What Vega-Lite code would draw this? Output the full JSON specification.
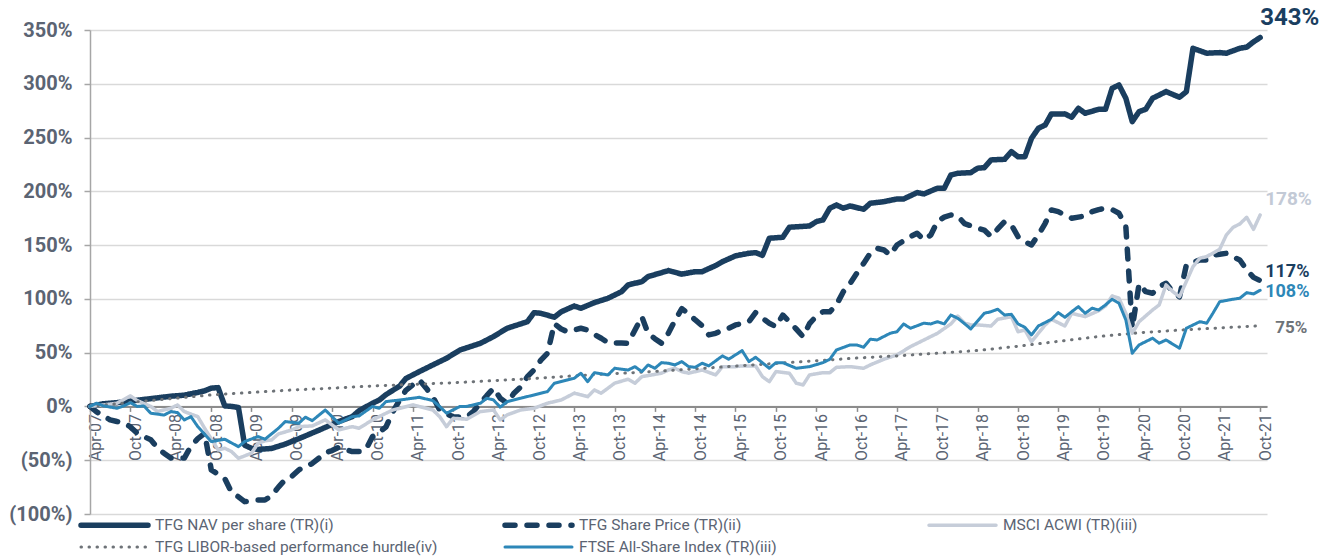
{
  "$schema": "https://vega.github.io/schema/vega-lite/v6.json",
  "width": 1177,
  "height": 484,
  "autosize": {"type": "none"},
  "padding": {"left": 90, "top": 30, "right": 71, "bottom": 44},
  "background": "white",
  "config": {"view": {"stroke": null}, "font": "Roboto"},
  "datasets": {
    "lines": [
      {"s":"nav","d":"2007-04","v":0},{"s":"nav","d":"2007-06","v":2.5},{"s":"nav","d":"2007-08","v":3.5},{"s":"nav","d":"2007-10","v":5},{"s":"nav","d":"2007-12","v":6.5},{"s":"nav","d":"2008-02","v":8},{"s":"nav","d":"2008-04","v":9.5},{"s":"nav","d":"2008-06","v":10.5},{"s":"nav","d":"2008-08","v":13},{"s":"nav","d":"2008-09","v":14.5},{"s":"nav","d":"2008-10","v":17},{"s":"nav","d":"2008-11","v":17.5},{"s":"nav","d":"2008-12","v":0.5},{"s":"nav","d":"2009-01","v":0},{"s":"nav","d":"2009-02","v":-1},{"s":"nav","d":"2009-03","v":-36},{"s":"nav","d":"2009-04","v":-39},{"s":"nav","d":"2009-05","v":-40},{"s":"nav","d":"2009-07","v":-39},{"s":"nav","d":"2009-09","v":-35},{"s":"nav","d":"2009-11","v":-30},{"s":"nav","d":"2010-02","v":-22},{"s":"nav","d":"2010-05","v":-14},{"s":"nav","d":"2010-07","v":-9.5},{"s":"nav","d":"2010-08","v":-4},{"s":"nav","d":"2010-10","v":3},{"s":"nav","d":"2010-11","v":6},{"s":"nav","d":"2010-12","v":11},{"s":"nav","d":"2011-01","v":15},{"s":"nav","d":"2011-02","v":19},{"s":"nav","d":"2011-03","v":26},{"s":"nav","d":"2011-05","v":32.4},{"s":"nav","d":"2011-07","v":38.6},{"s":"nav","d":"2011-09","v":44.8},{"s":"nav","d":"2011-11","v":52.5},{"s":"nav","d":"2012-02","v":58.7},{"s":"nav","d":"2012-04","v":65},{"s":"nav","d":"2012-06","v":72.7},{"s":"nav","d":"2012-09","v":78.8},{"s":"nav","d":"2012-10","v":87.2},{"s":"nav","d":"2012-11","v":86.6},{"s":"nav","d":"2013-01","v":83},{"s":"nav","d":"2013-02","v":88},{"s":"nav","d":"2013-04","v":93.4},{"s":"nav","d":"2013-05","v":91.3},{"s":"nav","d":"2013-07","v":96.5},{"s":"nav","d":"2013-09","v":100.6},{"s":"nav","d":"2013-11","v":106.7},{"s":"nav","d":"2013-12","v":113},{"s":"nav","d":"2014-02","v":116},{"s":"nav","d":"2014-03","v":120.7},{"s":"nav","d":"2014-06","v":126.3},{"s":"nav","d":"2014-08","v":123},{"s":"nav","d":"2014-10","v":125.3},{"s":"nav","d":"2014-11","v":125.3},{"s":"nav","d":"2015-01","v":131},{"s":"nav","d":"2015-02","v":134.6},{"s":"nav","d":"2015-04","v":140},{"s":"nav","d":"2015-06","v":142.4},{"s":"nav","d":"2015-07","v":143},{"s":"nav","d":"2015-08","v":140.5},{"s":"nav","d":"2015-09","v":156.4},{"s":"nav","d":"2015-11","v":157.3},{"s":"nav","d":"2015-12","v":166.6},{"s":"nav","d":"2016-03","v":167.8},{"s":"nav","d":"2016-04","v":171.8},{"s":"nav","d":"2016-05","v":173.4},{"s":"nav","d":"2016-06","v":184.3},{"s":"nav","d":"2016-07","v":187.3},{"s":"nav","d":"2016-08","v":184.3},{"s":"nav","d":"2016-09","v":186.4},{"s":"nav","d":"2016-11","v":183.3},{"s":"nav","d":"2016-12","v":188.9},{"s":"nav","d":"2017-02","v":190.4},{"s":"nav","d":"2017-04","v":192.9},{"s":"nav","d":"2017-05","v":192.9},{"s":"nav","d":"2017-07","v":198.8},{"s":"nav","d":"2017-08","v":197.6},{"s":"nav","d":"2017-10","v":202.9},{"s":"nav","d":"2017-11","v":202.9},{"s":"nav","d":"2017-12","v":215.2},{"s":"nav","d":"2018-01","v":216.8},{"s":"nav","d":"2018-03","v":217.4},{"s":"nav","d":"2018-04","v":221.5},{"s":"nav","d":"2018-05","v":222},{"s":"nav","d":"2018-06","v":229.2},{"s":"nav","d":"2018-08","v":229.8},{"s":"nav","d":"2018-09","v":236.9},{"s":"nav","d":"2018-10","v":232.2},{"s":"nav","d":"2018-11","v":232.2},{"s":"nav","d":"2018-12","v":249.3},{"s":"nav","d":"2019-01","v":258.6},{"s":"nav","d":"2019-02","v":261.7},{"s":"nav","d":"2019-03","v":272},{"s":"nav","d":"2019-05","v":272},{"s":"nav","d":"2019-06","v":268.9},{"s":"nav","d":"2019-07","v":277.2},{"s":"nav","d":"2019-08","v":272.6},{"s":"nav","d":"2019-10","v":276.3},{"s":"nav","d":"2019-11","v":276.3},{"s":"nav","d":"2019-12","v":295.8},{"s":"nav","d":"2020-01","v":298.9},{"s":"nav","d":"2020-02","v":286.5},{"s":"nav","d":"2020-03","v":264.8},{"s":"nav","d":"2020-04","v":274.1},{"s":"nav","d":"2020-05","v":276.3},{"s":"nav","d":"2020-06","v":286.5},{"s":"nav","d":"2020-08","v":292.7},{"s":"nav","d":"2020-10","v":287.5},{"s":"nav","d":"2020-11","v":292.7},{"s":"nav","d":"2020-12","v":333},{"s":"nav","d":"2021-02","v":328.4},{"s":"nav","d":"2021-04","v":329},{"s":"nav","d":"2021-05","v":328.4},{"s":"nav","d":"2021-07","v":333},{"s":"nav","d":"2021-08","v":334},{"s":"nav","d":"2021-09","v":339},{"s":"nav","d":"2021-10","v":343},

      {"s":"sp","d":"2007-04","v":0},{"s":"sp","d":"2007-05","v":-5},{"s":"sp","d":"2007-07","v":-12.5},{"s":"sp","d":"2007-08","v":-14},{"s":"sp","d":"2007-09","v":-15},{"s":"sp","d":"2007-10","v":-19},{"s":"sp","d":"2007-11","v":-25},{"s":"sp","d":"2007-12","v":-28},{"s":"sp","d":"2008-01","v":-31},{"s":"sp","d":"2008-02","v":-38.6},{"s":"sp","d":"2008-03","v":-43.5},{"s":"sp","d":"2008-04","v":-48},{"s":"sp","d":"2008-05","v":-48},{"s":"sp","d":"2008-06","v":-48},{"s":"sp","d":"2008-07","v":-37},{"s":"sp","d":"2008-08","v":-30},{"s":"sp","d":"2008-09","v":-25},{"s":"sp","d":"2008-10","v":-59},{"s":"sp","d":"2008-11","v":-63},{"s":"sp","d":"2008-12","v":-67},{"s":"sp","d":"2009-01","v":-80},{"s":"sp","d":"2009-02","v":-84},{"s":"sp","d":"2009-03","v":-88.5},{"s":"sp","d":"2009-04","v":-88},{"s":"sp","d":"2009-05","v":-87},{"s":"sp","d":"2009-06","v":-87},{"s":"sp","d":"2009-07","v":-83},{"s":"sp","d":"2009-08","v":-75},{"s":"sp","d":"2009-09","v":-68},{"s":"sp","d":"2009-10","v":-65},{"s":"sp","d":"2009-11","v":-59},{"s":"sp","d":"2009-12","v":-56},{"s":"sp","d":"2010-01","v":-53},{"s":"sp","d":"2010-02","v":-48},{"s":"sp","d":"2010-03","v":-43},{"s":"sp","d":"2010-04","v":-41},{"s":"sp","d":"2010-05","v":-38},{"s":"sp","d":"2010-06","v":-40},{"s":"sp","d":"2010-07","v":-42},{"s":"sp","d":"2010-08","v":-42},{"s":"sp","d":"2010-09","v":-40},{"s":"sp","d":"2010-10","v":-28},{"s":"sp","d":"2010-11","v":-24},{"s":"sp","d":"2010-12","v":-19},{"s":"sp","d":"2011-01","v":-5},{"s":"sp","d":"2011-02","v":6},{"s":"sp","d":"2011-03","v":15},{"s":"sp","d":"2011-04","v":20},{"s":"sp","d":"2011-05","v":24.6},{"s":"sp","d":"2011-06","v":17},{"s":"sp","d":"2011-07","v":9},{"s":"sp","d":"2011-08","v":-3.3},{"s":"sp","d":"2011-09","v":-7},{"s":"sp","d":"2011-10","v":-9.5},{"s":"sp","d":"2011-11","v":-10},{"s":"sp","d":"2011-12","v":-10},{"s":"sp","d":"2012-01","v":-4.5},{"s":"sp","d":"2012-02","v":3},{"s":"sp","d":"2012-03","v":10},{"s":"sp","d":"2012-04","v":17},{"s":"sp","d":"2012-05","v":7.6},{"s":"sp","d":"2012-06","v":3},{"s":"sp","d":"2012-07","v":12},{"s":"sp","d":"2012-08","v":18},{"s":"sp","d":"2012-09","v":27.7},{"s":"sp","d":"2012-10","v":34},{"s":"sp","d":"2012-11","v":43},{"s":"sp","d":"2012-12","v":49.5},{"s":"sp","d":"2013-01","v":77},{"s":"sp","d":"2013-02","v":72},{"s":"sp","d":"2013-03","v":69.5},{"s":"sp","d":"2013-04","v":71},{"s":"sp","d":"2013-05","v":72.7},{"s":"sp","d":"2013-06","v":71},{"s":"sp","d":"2013-07","v":67},{"s":"sp","d":"2013-08","v":63.4},{"s":"sp","d":"2013-09","v":59.3},{"s":"sp","d":"2013-10","v":59},{"s":"sp","d":"2013-11","v":59},{"s":"sp","d":"2013-12","v":58.8},{"s":"sp","d":"2014-01","v":71},{"s":"sp","d":"2014-02","v":83.5},{"s":"sp","d":"2014-03","v":68},{"s":"sp","d":"2014-04","v":63},{"s":"sp","d":"2014-05","v":58.8},{"s":"sp","d":"2014-06","v":68},{"s":"sp","d":"2014-07","v":80},{"s":"sp","d":"2014-08","v":91},{"s":"sp","d":"2014-09","v":86},{"s":"sp","d":"2014-10","v":80.4},{"s":"sp","d":"2014-11","v":75},{"s":"sp","d":"2014-12","v":66.5},{"s":"sp","d":"2015-01","v":68},{"s":"sp","d":"2015-02","v":71},{"s":"sp","d":"2015-03","v":72.7},{"s":"sp","d":"2015-04","v":75.8},{"s":"sp","d":"2015-05","v":77},{"s":"sp","d":"2015-06","v":78.8},{"s":"sp","d":"2015-07","v":87.2},{"s":"sp","d":"2015-08","v":82},{"s":"sp","d":"2015-09","v":77.4},{"s":"sp","d":"2015-10","v":74.2},{"s":"sp","d":"2015-11","v":85},{"s":"sp","d":"2015-12","v":78.8},{"s":"sp","d":"2016-01","v":72},{"s":"sp","d":"2016-02","v":64.9},{"s":"sp","d":"2016-03","v":77},{"s":"sp","d":"2016-04","v":84},{"s":"sp","d":"2016-05","v":88},{"s":"sp","d":"2016-06","v":88},{"s":"sp","d":"2016-07","v":94.4},{"s":"sp","d":"2016-08","v":106.7},{"s":"sp","d":"2016-09","v":114.5},{"s":"sp","d":"2016-10","v":123.8},{"s":"sp","d":"2016-11","v":133},{"s":"sp","d":"2016-12","v":142.4},{"s":"sp","d":"2017-01","v":147},{"s":"sp","d":"2017-02","v":145.5},{"s":"sp","d":"2017-03","v":140.8},{"s":"sp","d":"2017-04","v":150.1},{"s":"sp","d":"2017-05","v":154},{"s":"sp","d":"2017-06","v":157.9},{"s":"sp","d":"2017-07","v":161},{"s":"sp","d":"2017-08","v":154.8},{"s":"sp","d":"2017-09","v":159.4},{"s":"sp","d":"2017-10","v":172},{"s":"sp","d":"2017-11","v":176},{"s":"sp","d":"2017-12","v":178},{"s":"sp","d":"2018-01","v":177},{"s":"sp","d":"2018-02","v":170},{"s":"sp","d":"2018-03","v":168},{"s":"sp","d":"2018-04","v":165.7},{"s":"sp","d":"2018-05","v":164},{"s":"sp","d":"2018-06","v":158},{"s":"sp","d":"2018-07","v":165},{"s":"sp","d":"2018-08","v":171.8},{"s":"sp","d":"2018-09","v":168.7},{"s":"sp","d":"2018-10","v":157.9},{"s":"sp","d":"2018-11","v":153},{"s":"sp","d":"2018-12","v":150.2},{"s":"sp","d":"2019-01","v":159.4},{"s":"sp","d":"2019-02","v":170.3},{"s":"sp","d":"2019-03","v":182.7},{"s":"sp","d":"2019-04","v":181.1},{"s":"sp","d":"2019-05","v":178},{"s":"sp","d":"2019-06","v":175},{"s":"sp","d":"2019-07","v":176},{"s":"sp","d":"2019-08","v":177.1},{"s":"sp","d":"2019-09","v":181.1},{"s":"sp","d":"2019-10","v":183},{"s":"sp","d":"2019-11","v":184.3},{"s":"sp","d":"2019-12","v":183},{"s":"sp","d":"2020-01","v":179.6},{"s":"sp","d":"2020-02","v":167.2},{"s":"sp","d":"2020-03","v":73},{"s":"sp","d":"2020-04","v":114},{"s":"sp","d":"2020-05","v":106.7},{"s":"sp","d":"2020-06","v":105.2},{"s":"sp","d":"2020-07","v":111.4},{"s":"sp","d":"2020-08","v":114.5},{"s":"sp","d":"2020-09","v":106.7},{"s":"sp","d":"2020-10","v":102},{"s":"sp","d":"2020-11","v":131.6},{"s":"sp","d":"2020-12","v":134},{"s":"sp","d":"2021-01","v":136.2},{"s":"sp","d":"2021-02","v":136.2},{"s":"sp","d":"2021-03","v":140.8},{"s":"sp","d":"2021-04","v":141.5},{"s":"sp","d":"2021-05","v":142.4},{"s":"sp","d":"2021-06","v":139},{"s":"sp","d":"2021-07","v":136.2},{"s":"sp","d":"2021-08","v":126.9},{"s":"sp","d":"2021-09","v":120},{"s":"sp","d":"2021-10","v":117},

      {"s":"msci","d":"2007-04","v":0},{"s":"msci","d":"2007-06","v":1.4},{"s":"msci","d":"2007-08","v":3},{"s":"msci","d":"2007-10","v":9.8},{"s":"msci","d":"2007-11","v":5.4},{"s":"msci","d":"2008-01","v":0},{"s":"msci","d":"2008-02","v":-4.8},{"s":"msci","d":"2008-04","v":-1.7},{"s":"msci","d":"2008-05","v":1.4},{"s":"msci","d":"2008-06","v":-4.8},{"s":"msci","d":"2008-08","v":-9.5},{"s":"msci","d":"2008-09","v":-20.3},{"s":"msci","d":"2008-11","v":-40.4},{"s":"msci","d":"2008-12","v":-38.9},{"s":"msci","d":"2009-01","v":-42},{"s":"msci","d":"2009-02","v":-48.2},{"s":"msci","d":"2009-03","v":-46},{"s":"msci","d":"2009-04","v":-43.5},{"s":"msci","d":"2009-05","v":-34.2},{"s":"msci","d":"2009-06","v":-32},{"s":"msci","d":"2009-07","v":-31.1},{"s":"msci","d":"2009-08","v":-25.6},{"s":"msci","d":"2009-10","v":-21.8},{"s":"msci","d":"2009-11","v":-18.8},{"s":"msci","d":"2010-01","v":-18.1},{"s":"msci","d":"2010-03","v":-12.5},{"s":"msci","d":"2010-05","v":-21.8},{"s":"msci","d":"2010-07","v":-18.8},{"s":"msci","d":"2010-08","v":-20.3},{"s":"msci","d":"2010-10","v":-12.5},{"s":"msci","d":"2010-12","v":-6.3},{"s":"msci","d":"2011-01","v":-3.3},{"s":"msci","d":"2011-04","v":1.4},{"s":"msci","d":"2011-06","v":-1.7},{"s":"msci","d":"2011-07","v":-3.3},{"s":"msci","d":"2011-08","v":-9.5},{"s":"msci","d":"2011-09","v":-18.8},{"s":"msci","d":"2011-10","v":-11},{"s":"msci","d":"2011-12","v":-11.9},{"s":"msci","d":"2012-02","v":-4.8},{"s":"msci","d":"2012-04","v":-3.3},{"s":"msci","d":"2012-05","v":-12.5},{"s":"msci","d":"2012-06","v":-7.9},{"s":"msci","d":"2012-08","v":-3.3},{"s":"msci","d":"2012-10","v":-1.7},{"s":"msci","d":"2012-12","v":3},{"s":"msci","d":"2013-02","v":6},{"s":"msci","d":"2013-04","v":12.3},{"s":"msci","d":"2013-06","v":9.1},{"s":"msci","d":"2013-07","v":15.3},{"s":"msci","d":"2013-08","v":12.3},{"s":"msci","d":"2013-10","v":21.6},{"s":"msci","d":"2013-12","v":25.3},{"s":"msci","d":"2014-01","v":21.6},{"s":"msci","d":"2014-02","v":27.7},{"s":"msci","d":"2014-05","v":30.9},{"s":"msci","d":"2014-06","v":33.9},{"s":"msci","d":"2014-07","v":35.5},{"s":"msci","d":"2014-08","v":32.4},{"s":"msci","d":"2014-09","v":30.9},{"s":"msci","d":"2014-11","v":33.9},{"s":"msci","d":"2015-01","v":29.3},{"s":"msci","d":"2015-02","v":37},{"s":"msci","d":"2015-04","v":37},{"s":"msci","d":"2015-05","v":37.7},{"s":"msci","d":"2015-07","v":37.7},{"s":"msci","d":"2015-08","v":27.7},{"s":"msci","d":"2015-09","v":23},{"s":"msci","d":"2015-10","v":32.4},{"s":"msci","d":"2015-12","v":30.9},{"s":"msci","d":"2016-01","v":21.6},{"s":"msci","d":"2016-02","v":20},{"s":"msci","d":"2016-03","v":29.3},{"s":"msci","d":"2016-05","v":31.4},{"s":"msci","d":"2016-06","v":31.4},{"s":"msci","d":"2016-07","v":36.4},{"s":"msci","d":"2016-09","v":37},{"s":"msci","d":"2016-11","v":35.5},{"s":"msci","d":"2016-12","v":38.6},{"s":"msci","d":"2017-02","v":43.9},{"s":"msci","d":"2017-04","v":47.9},{"s":"msci","d":"2017-06","v":55.6},{"s":"msci","d":"2017-08","v":61.8},{"s":"msci","d":"2017-10","v":68},{"s":"msci","d":"2017-12","v":76.7},{"s":"msci","d":"2018-01","v":84.1},{"s":"msci","d":"2018-02","v":77.4},{"s":"msci","d":"2018-03","v":75.8},{"s":"msci","d":"2018-04","v":75.8},{"s":"msci","d":"2018-06","v":74.8},{"s":"msci","d":"2018-07","v":81},{"s":"msci","d":"2018-09","v":83.5},{"s":"msci","d":"2018-10","v":69.5},{"s":"msci","d":"2018-11","v":71.1},{"s":"msci","d":"2018-12","v":60.2},{"s":"msci","d":"2019-02","v":75.8},{"s":"msci","d":"2019-03","v":81},{"s":"msci","d":"2019-05","v":74.8},{"s":"msci","d":"2019-06","v":86.6},{"s":"msci","d":"2019-08","v":83.5},{"s":"msci","d":"2019-10","v":89},{"s":"msci","d":"2019-11","v":93.4},{"s":"msci","d":"2019-12","v":102.7},{"s":"msci","d":"2020-01","v":100.6},{"s":"msci","d":"2020-02","v":86.6},{"s":"msci","d":"2020-03","v":68},{"s":"msci","d":"2020-04","v":78.8},{"s":"msci","d":"2020-06","v":89.7},{"s":"msci","d":"2020-07","v":94.4},{"s":"msci","d":"2020-08","v":113},{"s":"msci","d":"2020-09","v":106.7},{"s":"msci","d":"2020-10","v":102},{"s":"msci","d":"2020-12","v":130},{"s":"msci","d":"2021-01","v":137.8},{"s":"msci","d":"2021-02","v":139.3},{"s":"msci","d":"2021-04","v":146.2},{"s":"msci","d":"2021-05","v":159.4},{"s":"msci","d":"2021-06","v":166.6},{"s":"msci","d":"2021-07","v":169.7},{"s":"msci","d":"2021-08","v":175.9},{"s":"msci","d":"2021-09","v":164.7},{"s":"msci","d":"2021-10","v":178},

      {"s":"hurdle","d":"2007-04","v":0},{"s":"hurdle","d":"2007-10","v":3.8},{"s":"hurdle","d":"2008-04","v":7.2},{"s":"hurdle","d":"2008-10","v":10.7},{"s":"hurdle","d":"2009-04","v":13},{"s":"hurdle","d":"2009-10","v":15.3},{"s":"hurdle","d":"2010-04","v":17},{"s":"hurdle","d":"2010-10","v":19},{"s":"hurdle","d":"2011-04","v":20.5},{"s":"hurdle","d":"2011-10","v":22},{"s":"hurdle","d":"2012-04","v":24},{"s":"hurdle","d":"2012-10","v":26},{"s":"hurdle","d":"2013-04","v":28.5},{"s":"hurdle","d":"2013-10","v":30.5},{"s":"hurdle","d":"2014-04","v":32.5},{"s":"hurdle","d":"2014-10","v":35},{"s":"hurdle","d":"2015-04","v":37.5},{"s":"hurdle","d":"2015-10","v":40},{"s":"hurdle","d":"2016-04","v":42.5},{"s":"hurdle","d":"2016-10","v":45},{"s":"hurdle","d":"2017-04","v":47},{"s":"hurdle","d":"2017-10","v":49.5},{"s":"hurdle","d":"2018-04","v":52},{"s":"hurdle","d":"2018-10","v":56},{"s":"hurdle","d":"2019-04","v":60.5},{"s":"hurdle","d":"2019-10","v":65},{"s":"hurdle","d":"2020-04","v":68.5},{"s":"hurdle","d":"2020-10","v":71},{"s":"hurdle","d":"2021-04","v":73},{"s":"hurdle","d":"2021-10","v":75},

      {"s":"ftse","d":"2007-04","v":0},{"s":"ftse","d":"2007-05","v":3},{"s":"ftse","d":"2007-06","v":0.5},{"s":"ftse","d":"2007-08","v":-1.7},{"s":"ftse","d":"2007-09","v":0.5},{"s":"ftse","d":"2007-10","v":3.5},{"s":"ftse","d":"2007-11","v":0},{"s":"ftse","d":"2007-12","v":0.5},{"s":"ftse","d":"2008-01","v":-6.3},{"s":"ftse","d":"2008-03","v":-8},{"s":"ftse","d":"2008-04","v":-4.8},{"s":"ftse","d":"2008-05","v":-5.7},{"s":"ftse","d":"2008-06","v":-12.5},{"s":"ftse","d":"2008-07","v":-9.5},{"s":"ftse","d":"2008-08","v":-18.8},{"s":"ftse","d":"2008-10","v":-32.7},{"s":"ftse","d":"2008-12","v":-30.5},{"s":"ftse","d":"2009-02","v":-37.4},{"s":"ftse","d":"2009-03","v":-32.7},{"s":"ftse","d":"2009-05","v":-28},{"s":"ftse","d":"2009-06","v":-30.5},{"s":"ftse","d":"2009-08","v":-20.3},{"s":"ftse","d":"2009-09","v":-14},{"s":"ftse","d":"2009-11","v":-15.6},{"s":"ftse","d":"2009-12","v":-10},{"s":"ftse","d":"2010-01","v":-13.2},{"s":"ftse","d":"2010-03","v":-3.3},{"s":"ftse","d":"2010-05","v":-15.6},{"s":"ftse","d":"2010-07","v":-9.5},{"s":"ftse","d":"2010-08","v":-8.8},{"s":"ftse","d":"2010-10","v":0},{"s":"ftse","d":"2010-11","v":-1.7},{"s":"ftse","d":"2010-12","v":4.5},{"s":"ftse","d":"2011-02","v":6},{"s":"ftse","d":"2011-04","v":7.6},{"s":"ftse","d":"2011-05","v":8.5},{"s":"ftse","d":"2011-07","v":5.4},{"s":"ftse","d":"2011-08","v":0},{"s":"ftse","d":"2011-09","v":-6.3},{"s":"ftse","d":"2011-11","v":0},{"s":"ftse","d":"2011-12","v":0},{"s":"ftse","d":"2012-02","v":3},{"s":"ftse","d":"2012-03","v":7.6},{"s":"ftse","d":"2012-04","v":6},{"s":"ftse","d":"2012-05","v":-0.7},{"s":"ftse","d":"2012-06","v":4.5},{"s":"ftse","d":"2012-08","v":7.6},{"s":"ftse","d":"2012-10","v":10.7},{"s":"ftse","d":"2012-12","v":13.8},{"s":"ftse","d":"2013-01","v":21.6},{"s":"ftse","d":"2013-03","v":24.6},{"s":"ftse","d":"2013-04","v":26.2},{"s":"ftse","d":"2013-05","v":30.9},{"s":"ftse","d":"2013-06","v":23},{"s":"ftse","d":"2013-07","v":31.4},{"s":"ftse","d":"2013-09","v":29.3},{"s":"ftse","d":"2013-10","v":35.5},{"s":"ftse","d":"2013-12","v":33.9},{"s":"ftse","d":"2014-01","v":37},{"s":"ftse","d":"2014-02","v":32.4},{"s":"ftse","d":"2014-03","v":38.6},{"s":"ftse","d":"2014-04","v":35.5},{"s":"ftse","d":"2014-05","v":40.7},{"s":"ftse","d":"2014-06","v":40.2},{"s":"ftse","d":"2014-07","v":38.6},{"s":"ftse","d":"2014-08","v":41.7},{"s":"ftse","d":"2014-09","v":37},{"s":"ftse","d":"2014-10","v":36.4},{"s":"ftse","d":"2014-11","v":40.2},{"s":"ftse","d":"2014-12","v":37.7},{"s":"ftse","d":"2015-02","v":47},{"s":"ftse","d":"2015-03","v":43.9},{"s":"ftse","d":"2015-05","v":51.9},{"s":"ftse","d":"2015-06","v":41.7},{"s":"ftse","d":"2015-07","v":45.7},{"s":"ftse","d":"2015-09","v":35.5},{"s":"ftse","d":"2015-10","v":40.7},{"s":"ftse","d":"2015-11","v":40.7},{"s":"ftse","d":"2016-01","v":35.5},{"s":"ftse","d":"2016-03","v":37},{"s":"ftse","d":"2016-05","v":40.7},{"s":"ftse","d":"2016-06","v":43.9},{"s":"ftse","d":"2016-07","v":52.5},{"s":"ftse","d":"2016-09","v":57.2},{"s":"ftse","d":"2016-10","v":57.2},{"s":"ftse","d":"2016-11","v":55},{"s":"ftse","d":"2016-12","v":62.5},{"s":"ftse","d":"2017-01","v":61.8},{"s":"ftse","d":"2017-03","v":68},{"s":"ftse","d":"2017-04","v":69.5},{"s":"ftse","d":"2017-05","v":76.7},{"s":"ftse","d":"2017-06","v":72.7},{"s":"ftse","d":"2017-08","v":77.4},{"s":"ftse","d":"2017-09","v":76.7},{"s":"ftse","d":"2017-10","v":78.8},{"s":"ftse","d":"2017-11","v":76.7},{"s":"ftse","d":"2017-12","v":85},{"s":"ftse","d":"2018-01","v":82},{"s":"ftse","d":"2018-02","v":77},{"s":"ftse","d":"2018-03","v":72},{"s":"ftse","d":"2018-05","v":86.6},{"s":"ftse","d":"2018-06","v":88.1},{"s":"ftse","d":"2018-07","v":90.4},{"s":"ftse","d":"2018-08","v":85},{"s":"ftse","d":"2018-09","v":85.7},{"s":"ftse","d":"2018-10","v":76.7},{"s":"ftse","d":"2018-11","v":73.6},{"s":"ftse","d":"2018-12","v":66.5},{"s":"ftse","d":"2019-01","v":74.8},{"s":"ftse","d":"2019-03","v":81},{"s":"ftse","d":"2019-04","v":87.2},{"s":"ftse","d":"2019-05","v":82.9},{"s":"ftse","d":"2019-06","v":88.1},{"s":"ftse","d":"2019-07","v":92.8},{"s":"ftse","d":"2019-08","v":86.6},{"s":"ftse","d":"2019-09","v":91.3},{"s":"ftse","d":"2019-10","v":89.7},{"s":"ftse","d":"2019-11","v":94.4},{"s":"ftse","d":"2019-12","v":99.7},{"s":"ftse","d":"2020-01","v":95.9},{"s":"ftse","d":"2020-02","v":80.4},{"s":"ftse","d":"2020-03","v":49.5},{"s":"ftse","d":"2020-04","v":57.2},{"s":"ftse","d":"2020-06","v":63.4},{"s":"ftse","d":"2020-07","v":58.8},{"s":"ftse","d":"2020-08","v":61.8},{"s":"ftse","d":"2020-10","v":54.1},{"s":"ftse","d":"2020-11","v":72.7},{"s":"ftse","d":"2021-01","v":78.8},{"s":"ftse","d":"2021-02","v":77.4},{"s":"ftse","d":"2021-03","v":86.6},{"s":"ftse","d":"2021-04","v":97.4},{"s":"ftse","d":"2021-06","v":99.7},{"s":"ftse","d":"2021-07","v":100.6},{"s":"ftse","d":"2021-08","v":105.8},{"s":"ftse","d":"2021-09","v":104.6},{"s":"ftse","d":"2021-10","v":108}
    ],
    "ends": [
      {"s":"nav","d":"2021-10","v":343,"t":"343%"},
      {"s":"msci","d":"2021-10","v":178,"t":"178%"},
      {"s":"sp","d":"2021-10","v":117,"t":"117%"},
      {"s":"ftse","d":"2021-10","v":108,"t":"108%"},
      {"s":"hurdle","d":"2021-10","v":75,"t":"75%"}
    ]
  },
  "encoding": {
    "x": {
      "field": "d", "type": "temporal",
      "scale": {"type": "utc", "domain": [{"year":2007,"month":4,"date":1,"utc":true},{"year":2021,"month":11,"date":1,"utc":true}]},
      "axis": {
        "title": null,
        "values": [
          {"year":2007,"month":4,"date":1,"utc":true},{"year":2007,"month":10,"date":1,"utc":true},
          {"year":2008,"month":4,"date":1,"utc":true},{"year":2008,"month":10,"date":1,"utc":true},
          {"year":2009,"month":4,"date":1,"utc":true},{"year":2009,"month":10,"date":1,"utc":true},
          {"year":2010,"month":4,"date":1,"utc":true},{"year":2010,"month":10,"date":1,"utc":true},
          {"year":2011,"month":4,"date":1,"utc":true},{"year":2011,"month":10,"date":1,"utc":true},
          {"year":2012,"month":4,"date":1,"utc":true},{"year":2012,"month":10,"date":1,"utc":true},
          {"year":2013,"month":4,"date":1,"utc":true},{"year":2013,"month":10,"date":1,"utc":true},
          {"year":2014,"month":4,"date":1,"utc":true},{"year":2014,"month":10,"date":1,"utc":true},
          {"year":2015,"month":4,"date":1,"utc":true},{"year":2015,"month":10,"date":1,"utc":true},
          {"year":2016,"month":4,"date":1,"utc":true},{"year":2016,"month":10,"date":1,"utc":true},
          {"year":2017,"month":4,"date":1,"utc":true},{"year":2017,"month":10,"date":1,"utc":true},
          {"year":2018,"month":4,"date":1,"utc":true},{"year":2018,"month":10,"date":1,"utc":true},
          {"year":2019,"month":4,"date":1,"utc":true},{"year":2019,"month":10,"date":1,"utc":true},
          {"year":2020,"month":4,"date":1,"utc":true},{"year":2020,"month":10,"date":1,"utc":true},
          {"year":2021,"month":4,"date":1,"utc":true},{"year":2021,"month":10,"date":1,"utc":true}
        ],
        "labelExpr": "utcFormat(datum.value, '%b-%y')",
        "labelAngle": 270, "labelAlign": "right", "labelBaseline": "middle",
        "labelFont": "Roboto", "labelFontSize": 16, "labelColor": "#5b6473",
        "labelPadding": 2, "labelOffset": 5, "labelFlush": false, "labelOverlap": false,
        "tickSize": 5, "tickColor": "#8c8c8c", "tickWidth": 1.5,
        "domainColor": "#8c8c8c", "domainWidth": 2,
        "grid": false, "offset": -107.6
      }
    },
    "y": {
      "field": "v", "type": "quantitative",
      "scale": {"domain": [-100, 350], "nice": false, "zero": false},
      "axis": {
        "title": null,
        "values": [-100,-50,0,50,100,150,200,250,300,350],
        "labelExpr": "datum.value < 0 ? '(' + abs(datum.value) + '%)' : datum.value + '%'",
        "labelFont": "Roboto", "labelFontSize": 20, "labelFontWeight": "bold", "labelColor": "#5b6473",
        "labelPadding": 12,
        "tickSize": 6, "tickColor": "#a6a6a6", "tickWidth": 1.5,
        "domainColor": "#a6a6a6", "domainWidth": 1.5,
        "gridColor": "#d9d9d9", "gridWidth": 1.5
      }
    }
  },
  "layer": [
    {
      "data": {"name": "lines"},
      "mark": {"type": "line", "strokeCap": "round", "strokeJoin": "round"},
      "encoding": {
        "color": {
          "field": "s", "type": "nominal",
          "scale": {"domain": ["nav","sp","msci","hurdle","ftse"], "range": ["#1a3e5f","#1a3e5f","#c6cdd9","#6e7378","#2d87b8"]},
          "legend": {"title": null, "orient": "none", "legendX": -12, "legendY": 487, "direction": "horizontal", "columns": 3, "gridAlign": "all", "columnPadding": 64, "rowPadding": 5, "symbolType": "stroke", "symbolSize": 4489, "clipHeight": 16, "labelFont": "Roboto", "labelFontSize": 15.5, "labelColor": "#5b6473", "labelOffset": 4, "labelLimit": 400,
            "labelExpr": "datum.value == 'nav' ? 'TFG NAV per share (TR)(i)' : datum.value == 'sp' ? 'TFG Share Price (TR)(ii)' : datum.value == 'msci' ? 'MSCI ACWI (TR)(iii)' : datum.value == 'hurdle' ? 'TFG LIBOR-based performance hurdle(iv)' : 'FTSE All-Share Index (TR)(iii)'",
            "encode": {"symbols": {"update": {"strokeCap": {"value": "round"}}}}}
        },
        "strokeDash": {
          "field": "s", "type": "nominal",
          "scale": {"domain": ["nav","sp","msci","hurdle","ftse"], "range": [[1,0],[10,12],[1,0],[0.5,7.5],[1,0]]},
          "legend": {"title": null, "orient": "none", "legendX": -12, "legendY": 487, "direction": "horizontal", "columns": 3, "gridAlign": "all", "columnPadding": 64, "rowPadding": 5, "symbolType": "stroke", "symbolSize": 4489, "clipHeight": 16, "labelFont": "Roboto", "labelFontSize": 15.5, "labelColor": "#5b6473", "labelOffset": 4, "labelLimit": 400,
            "labelExpr": "datum.value == 'nav' ? 'TFG NAV per share (TR)(i)' : datum.value == 'sp' ? 'TFG Share Price (TR)(ii)' : datum.value == 'msci' ? 'MSCI ACWI (TR)(iii)' : datum.value == 'hurdle' ? 'TFG LIBOR-based performance hurdle(iv)' : 'FTSE All-Share Index (TR)(iii)'",
            "encode": {"symbols": {"update": {"strokeCap": {"value": "round"}}}}}
        },
        "strokeWidth": {
          "field": "s", "type": "nominal",
          "scale": {"type": "ordinal", "domain": ["nav","sp","msci","hurdle","ftse"], "range": [5.5,5.5,3.5,3,3]},
          "legend": {"title": null, "orient": "none", "legendX": -12, "legendY": 487, "direction": "horizontal", "columns": 3, "gridAlign": "all", "columnPadding": 64, "rowPadding": 5, "symbolType": "stroke", "symbolSize": 4489, "clipHeight": 16, "labelFont": "Roboto", "labelFontSize": 15.5, "labelColor": "#5b6473", "labelOffset": 4, "labelLimit": 400,
            "labelExpr": "datum.value == 'nav' ? 'TFG NAV per share (TR)(i)' : datum.value == 'sp' ? 'TFG Share Price (TR)(ii)' : datum.value == 'msci' ? 'MSCI ACWI (TR)(iii)' : datum.value == 'hurdle' ? 'TFG LIBOR-based performance hurdle(iv)' : 'FTSE All-Share Index (TR)(iii)'",
            "encode": {"symbols": {"update": {"strokeCap": {"value": "round"}}}}}
        }
      }
    },
    {
      "data": {"name": "ends"},
      "transform": [{"filter": "datum.s == 'nav'"}],
      "mark": {"type": "text", "align": "left", "baseline": "middle", "dx": 0, "dy": -20, "font": "Roboto", "fontSize": 24, "fontWeight": "bold", "color": "#1a3e5f"},
      "encoding": {"text": {"field": "t"}}
    },
    {
      "data": {"name": "ends"},
      "transform": [{"filter": "datum.s == 'msci'"}],
      "mark": {"type": "text", "align": "left", "baseline": "middle", "dx": 5, "dy": -16, "font": "Roboto", "fontSize": 19, "fontWeight": "bold", "color": "#c3cad6"},
      "encoding": {"text": {"field": "t"}}
    },
    {
      "data": {"name": "ends"},
      "transform": [{"filter": "datum.s == 'sp'"}],
      "mark": {"type": "text", "align": "left", "baseline": "middle", "dx": 5, "dy": -9, "font": "Roboto", "fontSize": 18, "fontWeight": "bold", "color": "#1a3e5f"},
      "encoding": {"text": {"field": "t"}}
    },
    {
      "data": {"name": "ends"},
      "transform": [{"filter": "datum.s == 'ftse'"}],
      "mark": {"type": "text", "align": "left", "baseline": "middle", "dx": 5, "dy": 2, "font": "Roboto", "fontSize": 18, "fontWeight": "bold", "color": "#2d87b8"},
      "encoding": {"text": {"field": "t"}}
    },
    {
      "data": {"name": "ends"},
      "transform": [{"filter": "datum.s == 'hurdle'"}],
      "mark": {"type": "text", "align": "left", "baseline": "middle", "dx": 15, "dy": 2, "font": "Roboto", "fontSize": 17, "fontWeight": "bold", "color": "#6e7378"},
      "encoding": {"text": {"field": "t"}}
    }
  ]
}
